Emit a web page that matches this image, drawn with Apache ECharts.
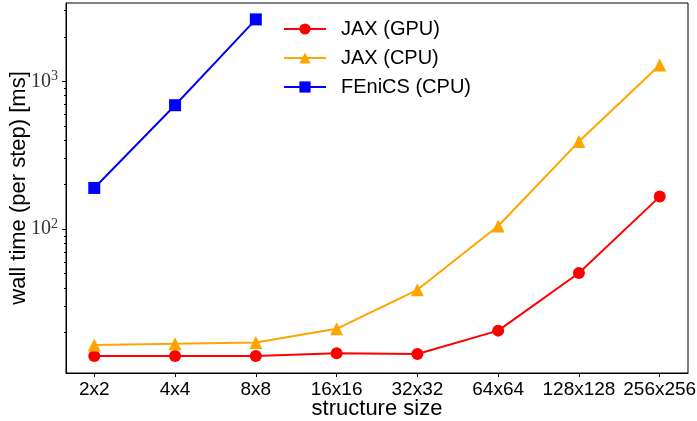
<!DOCTYPE html>
<html>
<head>
<meta charset="utf-8">
<script src="https://cdn.jsdelivr.net/npm/echarts@6/dist/echarts.min.js"></script>
<style>
  html, body { margin: 0; padding: 0; background: #fff; }
  #chart { width: 697px; height: 421px; }
</style>
</head>
<body>
<div id="chart"></div>
<script>
// structure sizes along the x axis
const categories = ["2x2", "4x4", "8x8", "16x16", "32x32", "64x64", "128x128", "256x256"];

// wall time per step in ms
const jaxGpu = [13.9, 13.9, 13.9, 14.5, 14.3, 20.6, 50.5, 166];
const jaxCpu = [16.5, 16.8, 17.1, 21.2, 38.9, 105, 391, 1290];
const fenics = [190, 689, 2620];

// y axis ticks (log scale)
const majorTicks = [100, 1000];
const minorTicks = [20, 30, 40, 50, 60, 70, 80, 90, 200, 300, 400, 500, 600, 700, 800, 900, 2000, 3000];
const yMin = 10.65;
const yMax = 3383;

const chart = echarts.init(document.getElementById("chart"));

const toPoints = (arr) => arr.map((v, i) => [i, v]);
const sans = "Liberation Sans";

const option = {
  animation: false,
  grid: {
    left: 66,
    right: 9,
    top: 3,
    bottom: 48,
    outerBoundsMode: "none",
    show: true,
    borderColor: "#000",
    borderWidth: 1,
  },
  legend: {
    orient: "vertical",
    left: 283,
    top: 19,
    padding: 0,
    itemWidth: 42,
    itemHeight: 14,
    itemGap: 9,
    textStyle: { fontFamily: sans, fontSize: 20, color: "#000", padding: [0, 0, 0, 10] },
    data: ["JAX (GPU)", "JAX (CPU)", "FEniCS (CPU)"],
  },
  xAxis: {
    type: "value",
    min: -0.35,
    max: 7.35,
    name: "structure size",
    nameLocation: "middle",
    nameGap: 25,
    nameMoveOverlap: false,
    nameTextStyle: { fontFamily: sans, fontSize: 22, color: "#000" },
    splitLine: { show: false },
    axisLine: { onZero: false, lineStyle: { color: "#000", width: 1 } },
    axisTick: {
      length: 4,
      customValues: categories.map((c, i) => i),
      lineStyle: { color: "#000" },
    },
    axisLabel: {
      customValues: categories.map((c, i) => i),
      formatter: (v) => categories[Math.round(v)],
      fontFamily: sans,
      fontSize: 19,
      color: "#000",
      margin: 7,
    },
  },
  yAxis: [
    {
      type: "log",
      min: yMin,
      max: yMax,
      name: "wall time (per step) [ms]",
      nameLocation: "middle",
      nameGap: 36,
      nameMoveOverlap: false,
      nameTextStyle: { fontFamily: sans, fontSize: 22, color: "#000" },
      splitLine: { show: false },
      axisLine: { show: true, onZero: false, lineStyle: { color: "#000", width: 1 } },
      axisTick: { length: 4, customValues: majorTicks, lineStyle: { color: "#000" } },
      axisLabel: {
        customValues: majorTicks,
        margin: 8,
        formatter: (v) => "{b|10}{s|" + Math.round(Math.log10(v)) + "}",
        rich: {
          b: { fontFamily: "Liberation Serif", fontSize: 20, color: "#333" },
          s: { fontFamily: "Liberation Serif", fontSize: 14, color: "#333", padding: [0, 0, 10, 0] },
        },
      },
    },
    {
      type: "log",
      min: yMin,
      max: yMax,
      position: "left",
      splitLine: { show: false },
      axisLine: { show: false, onZero: false },
      axisTick: { length: 2, customValues: minorTicks, lineStyle: { color: "#000" } },
      axisLabel: { show: false },
    },
  ],
  series: [
    {
      name: "JAX (GPU)",
      type: "line",
      data: toPoints(jaxGpu),
      symbol: "circle",
      symbolSize: 12,
      color: "#ff0000",
      lineStyle: { width: 2 },
      itemStyle: { color: "#ff0000" },
    },
    {
      name: "JAX (CPU)",
      type: "line",
      data: toPoints(jaxCpu),
      symbol: "triangle",
      symbolSize: 13,
      color: "#ffa500",
      lineStyle: { width: 2 },
      itemStyle: { color: "#ffa500" },
    },
    {
      name: "FEniCS (CPU)",
      type: "line",
      data: toPoints(fenics),
      symbol: "rect",
      symbolSize: 12,
      color: "#0000ff",
      lineStyle: { width: 2 },
      itemStyle: { color: "#0000ff" },
    },
  ],
};

chart.setOption(option);
</script>
</body>
</html>
